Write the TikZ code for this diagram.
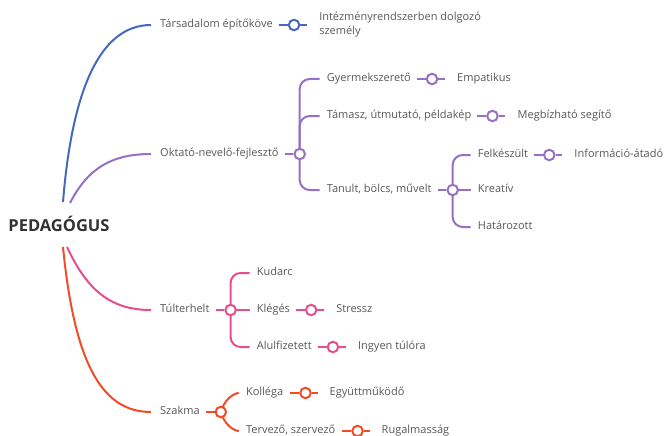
\documentclass[tikz,border=0pt]{standalone}
\usepackage{fontspec}
\setmainfont{Open Sans}
\usetikzlibrary{backgrounds,calc}
\definecolor{cblue}{RGB}{72,104,192}
\definecolor{cpurple}{RGB}{150,112,195}
\definecolor{cpink}{RGB}{232,78,140}
\definecolor{cred}{RGB}{243,75,38}
\definecolor{tgray}{RGB}{88,88,88}
\definecolor{tdark}{RGB}{50,50,50}
\begin{document}
\begin{tikzpicture}[x=1pt,y=-1pt,
  txt/.style={inner sep=0pt, anchor=west, text=tgray, text height=7.5pt, text depth=2pt, font=\fontsize{11}{14}\selectfont},
  dot/.style={circle, draw=#1, fill=white, line width=2pt, minimum size=10.5pt, inner sep=0pt},
  con/.style={line width=2pt},
  br/.style={con, rounded corners=10pt, shorten >=7pt},
  lnk/.style={con, shorten <=6pt},
  lnkb/.style={con, shorten >=12pt}
]
\useasboundingbox (0,0) rectangle (667,436);

% root
\node[inner sep=0pt, text=tdark, font=\fontsize{16.5}{20}\bfseries\selectfont] (root) at (59,224) {PEDAGÓGUS};
\coordinate (s1) at (63,202);
\coordinate (s2) at (70,203);
\coordinate (s3) at (67,247);
\coordinate (s4) at (63,247);

% level 1
\node[txt] (tars) at (160,25) {Társadalom építőköve};
\node[dot=cblue] (c1) at ([xshift=21pt]tars.east) {};
\node[txt, align=left, text height=, text depth=] (inte) at ([xshift=25pt]c1.center) {Intézményrendszerben dolgozó\\személy};

\node[txt] (okt) at (160,154) {Oktató-nevelő-fejlesztő};
\node[dot=cpurple] (c2) at ([xshift=21pt]okt.east) {};
\node[txt] (gy) at ($(c2)+(27,-75)$) {Gyermekszerető};
\node[txt] (tam) at ($(c2)+(27,-38)$) {Támasz, útmutató, példakép};
\node[txt] (tan) at ($(c2)+(27,36)$) {Tanult, bölcs, művelt};
\node[dot=cpurple] (c3) at ([xshift=21pt]gy.east) {};
\node[txt] (emp) at ([xshift=25pt]c3.center) {Empatikus};
\node[dot=cpurple] (c4) at ([xshift=21pt]tam.east) {};
\node[txt] (meg) at ([xshift=25pt]c4.center) {Megbízható segítő};
\node[dot=cpurple] (c5) at ([xshift=21pt]tan.east) {};
\node[txt] (fel) at ($(c5)+(25,-35)$) {Felkészült};
\node[txt] (kre) at ($(c5)+(25,0)$) {Kreatív};
\node[txt] (hat) at ($(c5)+(25,37)$) {Határozott};
\node[dot=cpurple] (c6) at ([xshift=21pt]fel.east) {};
\node[txt] (inf) at ([xshift=25pt]c6.center) {Információ-átadó};

\node[txt] (tul) at (160,310) {Túlterhelt};
\node[dot=cpink] (c7) at ([xshift=21pt]tul.east) {};
\node[txt] (kud) at ($(c7)+(26,-37)$) {Kudarc};
\node[txt] (kle) at ($(c7)+(26,0)$) {Klégés};
\node[txt] (alu) at ($(c7)+(26,37)$) {Alulfizetett};
\node[dot=cpink] (c8) at ([xshift=21pt]kle.east) {};
\node[txt] (str) at ([xshift=25pt]c8.center) {Stressz};
\node[dot=cpink] (c9) at ([xshift=21pt]alu.east) {};
\node[txt] (ing) at ([xshift=25pt]c9.center) {Ingyen túlóra};

\node[txt] (sza) at (160,412) {Szakma};
\node[dot=cred] (c10) at ([xshift=21pt]sza.east) {};
\node[txt] (kol) at ($(c10)+(25,-19)$) {Kolléga};
\node[txt] (ter) at ($(c10)+(25,19)$) {Tervező, szervező};
\node[dot=cred] (c11) at ([xshift=22pt]kol.east) {};
\node[txt] (egy) at ([xshift=24pt]c11.center) {Együttműködő};
\node[dot=cred] (c12) at ([xshift=22pt]ter.east) {};
\node[txt] (rug) at ([xshift=24pt]c12.center) {Rugalmasság};

\begin{scope}[on background layer]
% main curves
\draw[con, cblue, shorten >=9pt] (s1) .. controls (72,90) and (100,25) .. (tars.west);
\draw[con, cpurple, shorten >=9pt] (s2) .. controls (88,168) and (112,154) .. (okt.west);
\draw[con, cpink, shorten >=9pt] (s3) .. controls (88,292) and (112,310) .. (tul.west);
\draw[con, cred, shorten >=9pt] (s4) .. controls (75,370) and (105,412) .. (sza.west);

% blue
\draw[lnk, cblue] (tars.east) -- (c1);
\draw[lnkb, cblue] (c1) -- (c1 -| inte.west);

% purple
\draw[lnk, cpurple] (okt.east) -- (c2);
\draw[br, cpurple] (c2.center) |- (gy.west);
\draw[br, cpurple] (c2.center) |- (tam.west);
\draw[br, cpurple] (c2.center) |- (tan.west);
\draw[lnk, cpurple] (gy.east) -- (c3);
\draw[lnkb, cpurple] (c3) -- (emp.west);
\draw[lnk, cpurple] (tam.east) -- (c4);
\draw[lnkb, cpurple] (c4) -- (meg.west);
\draw[lnk, cpurple] (tan.east) -- (c5);
\draw[br, cpurple] (c5.center) |- (fel.west);
\draw[con, cpurple, shorten >=7pt] (c5.center) -- (kre.west);
\draw[br, cpurple] (c5.center) |- (hat.west);
\draw[lnk, cpurple] (fel.east) -- (c6);
\draw[lnkb, cpurple] (c6) -- (inf.west);

% pink
\draw[lnk, cpink] (tul.east) -- (c7);
\draw[br, cpink] (c7.center) |- (kud.west);
\draw[con, cpink, shorten >=7pt] (c7.center) -- (kle.west);
\draw[br, cpink] (c7.center) |- (alu.west);
\draw[lnk, cpink] (kle.east) -- (c8);
\draw[lnkb, cpink] (c8) -- (str.west);
\draw[lnk, cpink] (alu.east) -- (c9);
\draw[lnkb, cpink] (c9) -- (ing.west);

% red
\draw[lnk, cred] (sza.east) -- (c10);
\draw[con, cred, shorten >=7pt] (c10.center) to[out=75, in=180] (kol.west);
\draw[con, cred, shorten >=7pt] (c10.center) to[out=-75, in=180] (ter.west);
\draw[lnk, cred] (kol.east) -- (c11);
\draw[lnkb, cred] (c11) -- (egy.west);
\draw[lnk, cred] (ter.east) -- (c12);
\draw[lnkb, cred] (c12) -- (rug.west);
\end{scope}
\end{tikzpicture}
\end{document}
